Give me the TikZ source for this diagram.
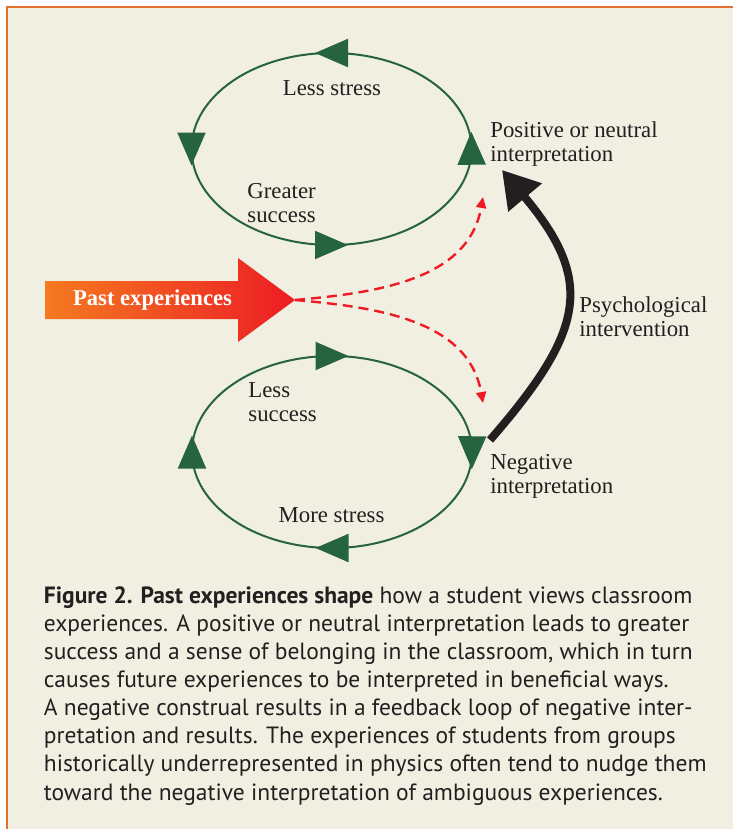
\documentclass[tikz,border=0pt]{standalone}
\usepackage{fontspec}
\setmainfont{Liberation Serif}
\newfontfamily\capfont{PT Sans}
\usetikzlibrary{arrows.meta, decorations.markings}

\definecolor{loopgreen}{RGB}{38,99,64}
\definecolor{panelbg}{RGB}{241,239,225}
\definecolor{frameorange}{RGB}{226,112,48}
\definecolor{pastorange}{RGB}{244,122,32}
\definecolor{pastred}{RGB}{237,28,36}
\definecolor{inkgray}{RGB}{35,31,32}

\begin{document}
\begin{tikzpicture}[x=0.5pt, y=0.5pt,
        label/.style={text=inkgray, inner sep=0pt, align=left,
            font=\fontsize{11.4}{12}\selectfont},
        loopline/.style={draw=loopgreen, line width=1pt},
        ccwloop/.style={loopline, postaction={decorate}, decoration={markings,
            mark=at position 0.001 with {\arrow[xshift=8.25pt]{Triangle[length=16.5pt, width=14pt]}},
            mark=at position 0.25 with {\arrow[xshift=8.25pt]{Triangle[length=16.5pt, width=14pt]}},
            mark=at position 0.5 with {\arrow[xshift=8.25pt]{Triangle[length=16.5pt, width=14pt]}},
            mark=at position 0.75 with {\arrow[xshift=8.25pt]{Triangle[length=16.5pt, width=14pt]}}}},
        cwloop/.style={loopline, postaction={decorate}, decoration={markings,
            mark=at position 0.25 with {\arrowreversed[xshift=-8.25pt]{Triangle[length=16.5pt, width=14pt]}},
            mark=at position 0.5 with {\arrowreversed[xshift=-8.25pt]{Triangle[length=16.5pt, width=14pt]}},
            mark=at position 0.75 with {\arrowreversed[xshift=-8.25pt]{Triangle[length=16.5pt, width=14pt]}},
            mark=at position 0.999 with {\arrowreversed[xshift=-8.25pt]{Triangle[length=16.5pt, width=14pt]}}}},
        dashlink/.style={draw=pastred, line width=1.2pt, dash pattern=on 5pt off 3pt,
            -{Triangle[length=5.5pt, width=5pt]}}]
    \useasboundingbox (0,0) rectangle (733,-829);
    \fill[panelbg] (7,-7) rectangle (733,-829);
    \draw[frameorange, line width=1pt] (7,-829) -- (7,-7) -- (733,-7);

    % the two loops
    \draw[ccwloop] (331.5,-149) ellipse [x radius=140, y radius=96];
    \draw[cwloop] (332,-452) ellipse [x radius=140, y radius=96];

    % labels (base = last line)
    \node[label, anchor=base] (lessstress) at (332,-96) {Less stress};
    \node[label, anchor=base west] (greater) at (247,-222) {Greater\\success};
    \node[label, anchor=base west] (positive) at (490,-161) {Positive or neutral\\interpretation};
    \node[label, anchor=base west] (lesssucc) at (248,-421) {Less\\success};
    \node[label, anchor=base] (morestress) at (331.5,-522) {More stress};
    \node[label, anchor=base west] (negative) at (490,-493) {Negative\\interpretation};
    \node[label, anchor=base west] (psych) at (579,-336) {Psychological\\intervention};

    % past experiences arrow
    \shade[left color=pastorange, right color=pastred] (45,-281) -- (238,-281) -- (238,-258)
        -- (295,-300) -- (238,-342) -- (238,-319) -- (45,-319) -- cycle;
    \node[anchor=base, text=white, inner sep=0pt,
        font=\bfseries\fontsize{11.3}{12}\selectfont] (past) at (152.5,-305) {Past experiences};
    \coordinate (pasttip) at (295,-300);
    \coordinate (posdash) at (483,-197);
    \coordinate (negdash) at (483,-403);
    \coordinate (negout) at (490,-440);
    \coordinate (posin) at (502,-170);

    \draw[dashlink] (pasttip) to[out=5, in=-100] (posdash);
    \draw[dashlink] (pasttip) to[out=-5, in=100] (negdash);
    \draw[inkgray, line width=4pt, -{Triangle[length=18pt, width=21pt]}]
        (negout) to[out=49, in=-50, looseness=1.37] (posin);

    \node[anchor=base west, align=left, inner sep=0pt, text=inkgray,
        font=\capfont\fontsize{11.75}{14.07}\selectfont] (caption) at (43.5,-800)
        {\textbf{Figure 2. Past experiences shape} how a student views classroom\\
        experiences. A positive or neutral interpretation leads to greater\\
        success and a sense of belonging in the classroom, which in turn\\
        causes future experiences to be interpreted in beneficial ways.\\
        A negative construal results in a feedback loop of negative inter-\\
        pretation and results. The experiences of students from groups\\
        historically underrepresented in physics often tend to nudge them\\
        toward the negative interpretation of ambiguous experiences.};
\end{tikzpicture}
\end{document}
